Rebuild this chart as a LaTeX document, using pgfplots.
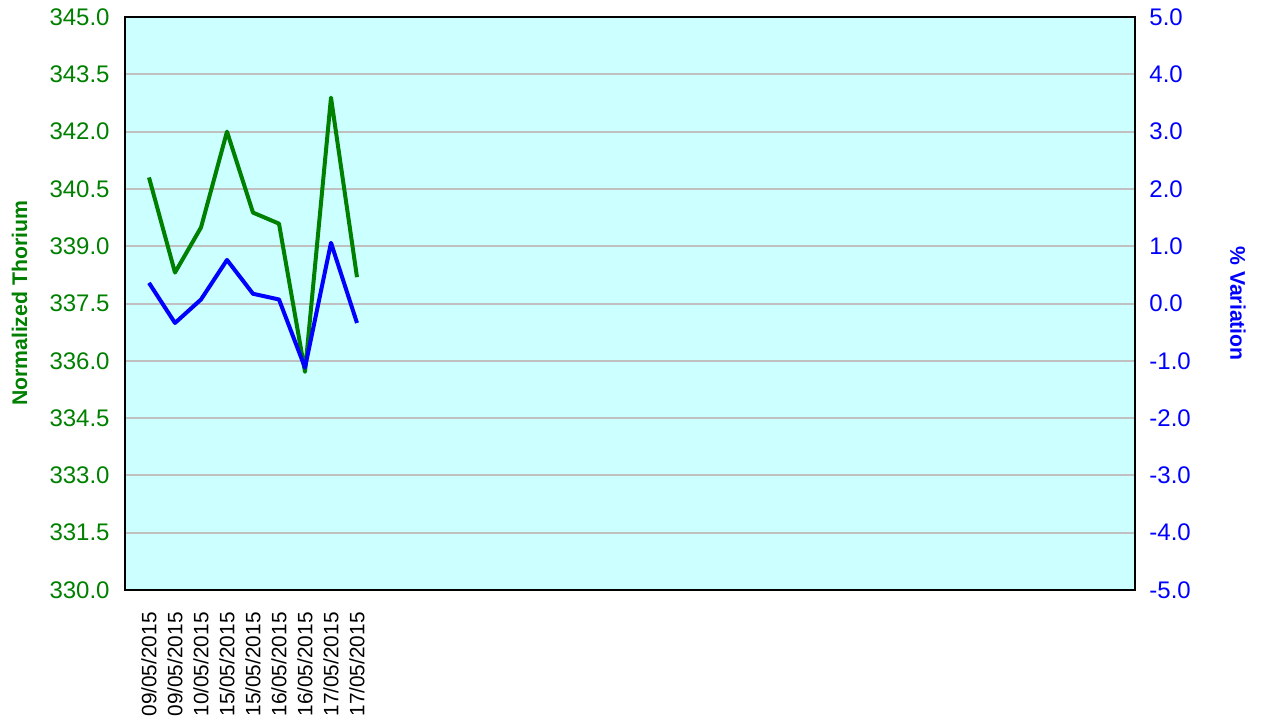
\documentclass[border=0pt]{standalone}
\usepackage{fontspec}
\setmainfont{Liberation Sans}
\usepackage{pgfplots}
\pgfplotsset{compat=1.18}
\definecolor{thgreen}{RGB}{0,128,0}
\definecolor{varblue}{RGB}{0,0,255}
\definecolor{plotbg}{RGB}{204,255,255}
\definecolor{gridgrey}{RGB}{192,192,192}
\begin{document}
\begin{tikzpicture}
\useasboundingbox (0,0) rectangle (631pt,362pt);
% common layout: 1px of the reference = 0.5pt
\pgfplotsset{
  myaxis/.style={
    at={(62.5pt,67pt)}, anchor=south west,
    scale only axis, width=505pt, height=286.5pt,
    xmin=-0.923, xmax=37.923,
    major tick length=0pt,
    /pgf/number format/assume math mode=true,
    /pgf/number format/fixed, /pgf/number format/fixed zerofill,
    /pgf/number format/precision=1,
    axis line style={black, line width=1pt},
  }
}
\begin{axis}[myaxis,
  axis background/.style={fill=plotbg},
  ymin=330, ymax=345,
  ytick={330,331.5,333,334.5,336,337.5,339,340.5,342,343.5,345},
  ymajorgrids, grid style={gridgrey, line width=1pt},
  yticklabel style={text=thgreen, font=\fontsize{12}{14}\selectfont, inner sep=0pt, xshift=-7.5pt},
  xtick={0,...,8},
  xticklabels={09/05/2015,09/05/2015,10/05/2015,15/05/2015,15/05/2015,16/05/2015,16/05/2015,17/05/2015,17/05/2015},
  xticklabel style={rotate=90, anchor=east, inner sep=0pt, font=\fontsize{10.4}{12}\selectfont},
  xticklabel shift=11pt,
  ylabel={\textbf{Normalized Thorium}},
  ylabel style={at={(axis description cs:-0.1045,0.5)}, anchor=center, rotate=0, text=thgreen, font=\fontsize{10.6}{12}\selectfont},
]
\addplot[thgreen, line width=2pt, line join=round, mark=none] coordinates {
  (0,340.80)(1,338.31)(2,339.49)(3,342.00)(4,339.88)
  (5,339.59)(6,335.71)(7,342.89)(8,338.19)
};
\end{axis}
\begin{axis}[myaxis,
  axis y line*=right, axis x line=none,
  ymin=-5, ymax=5,
  ytick={-5,-4,-3,-2,-1,0,1,2,3,4,5},
  yticklabel style={text=varblue, font=\fontsize{12}{14}\selectfont, inner sep=0pt, xshift=7pt, anchor=west},
  ylabel={\textbf{\% Variation}},
  ylabel style={at={(axis description cs:1.102,0.5)}, anchor=center, rotate=180, text=varblue, font=\fontsize{10.6}{12}\selectfont},
]
\addplot[varblue, line width=2pt, line join=round, mark=none] coordinates {
  (0,0.36)(1,-0.34)(2,0.07)(3,0.76)(4,0.17)
  (5,0.07)(6,-1.12)(7,1.06)(8,-0.34)
};
\end{axis}
\end{tikzpicture}
\end{document}
